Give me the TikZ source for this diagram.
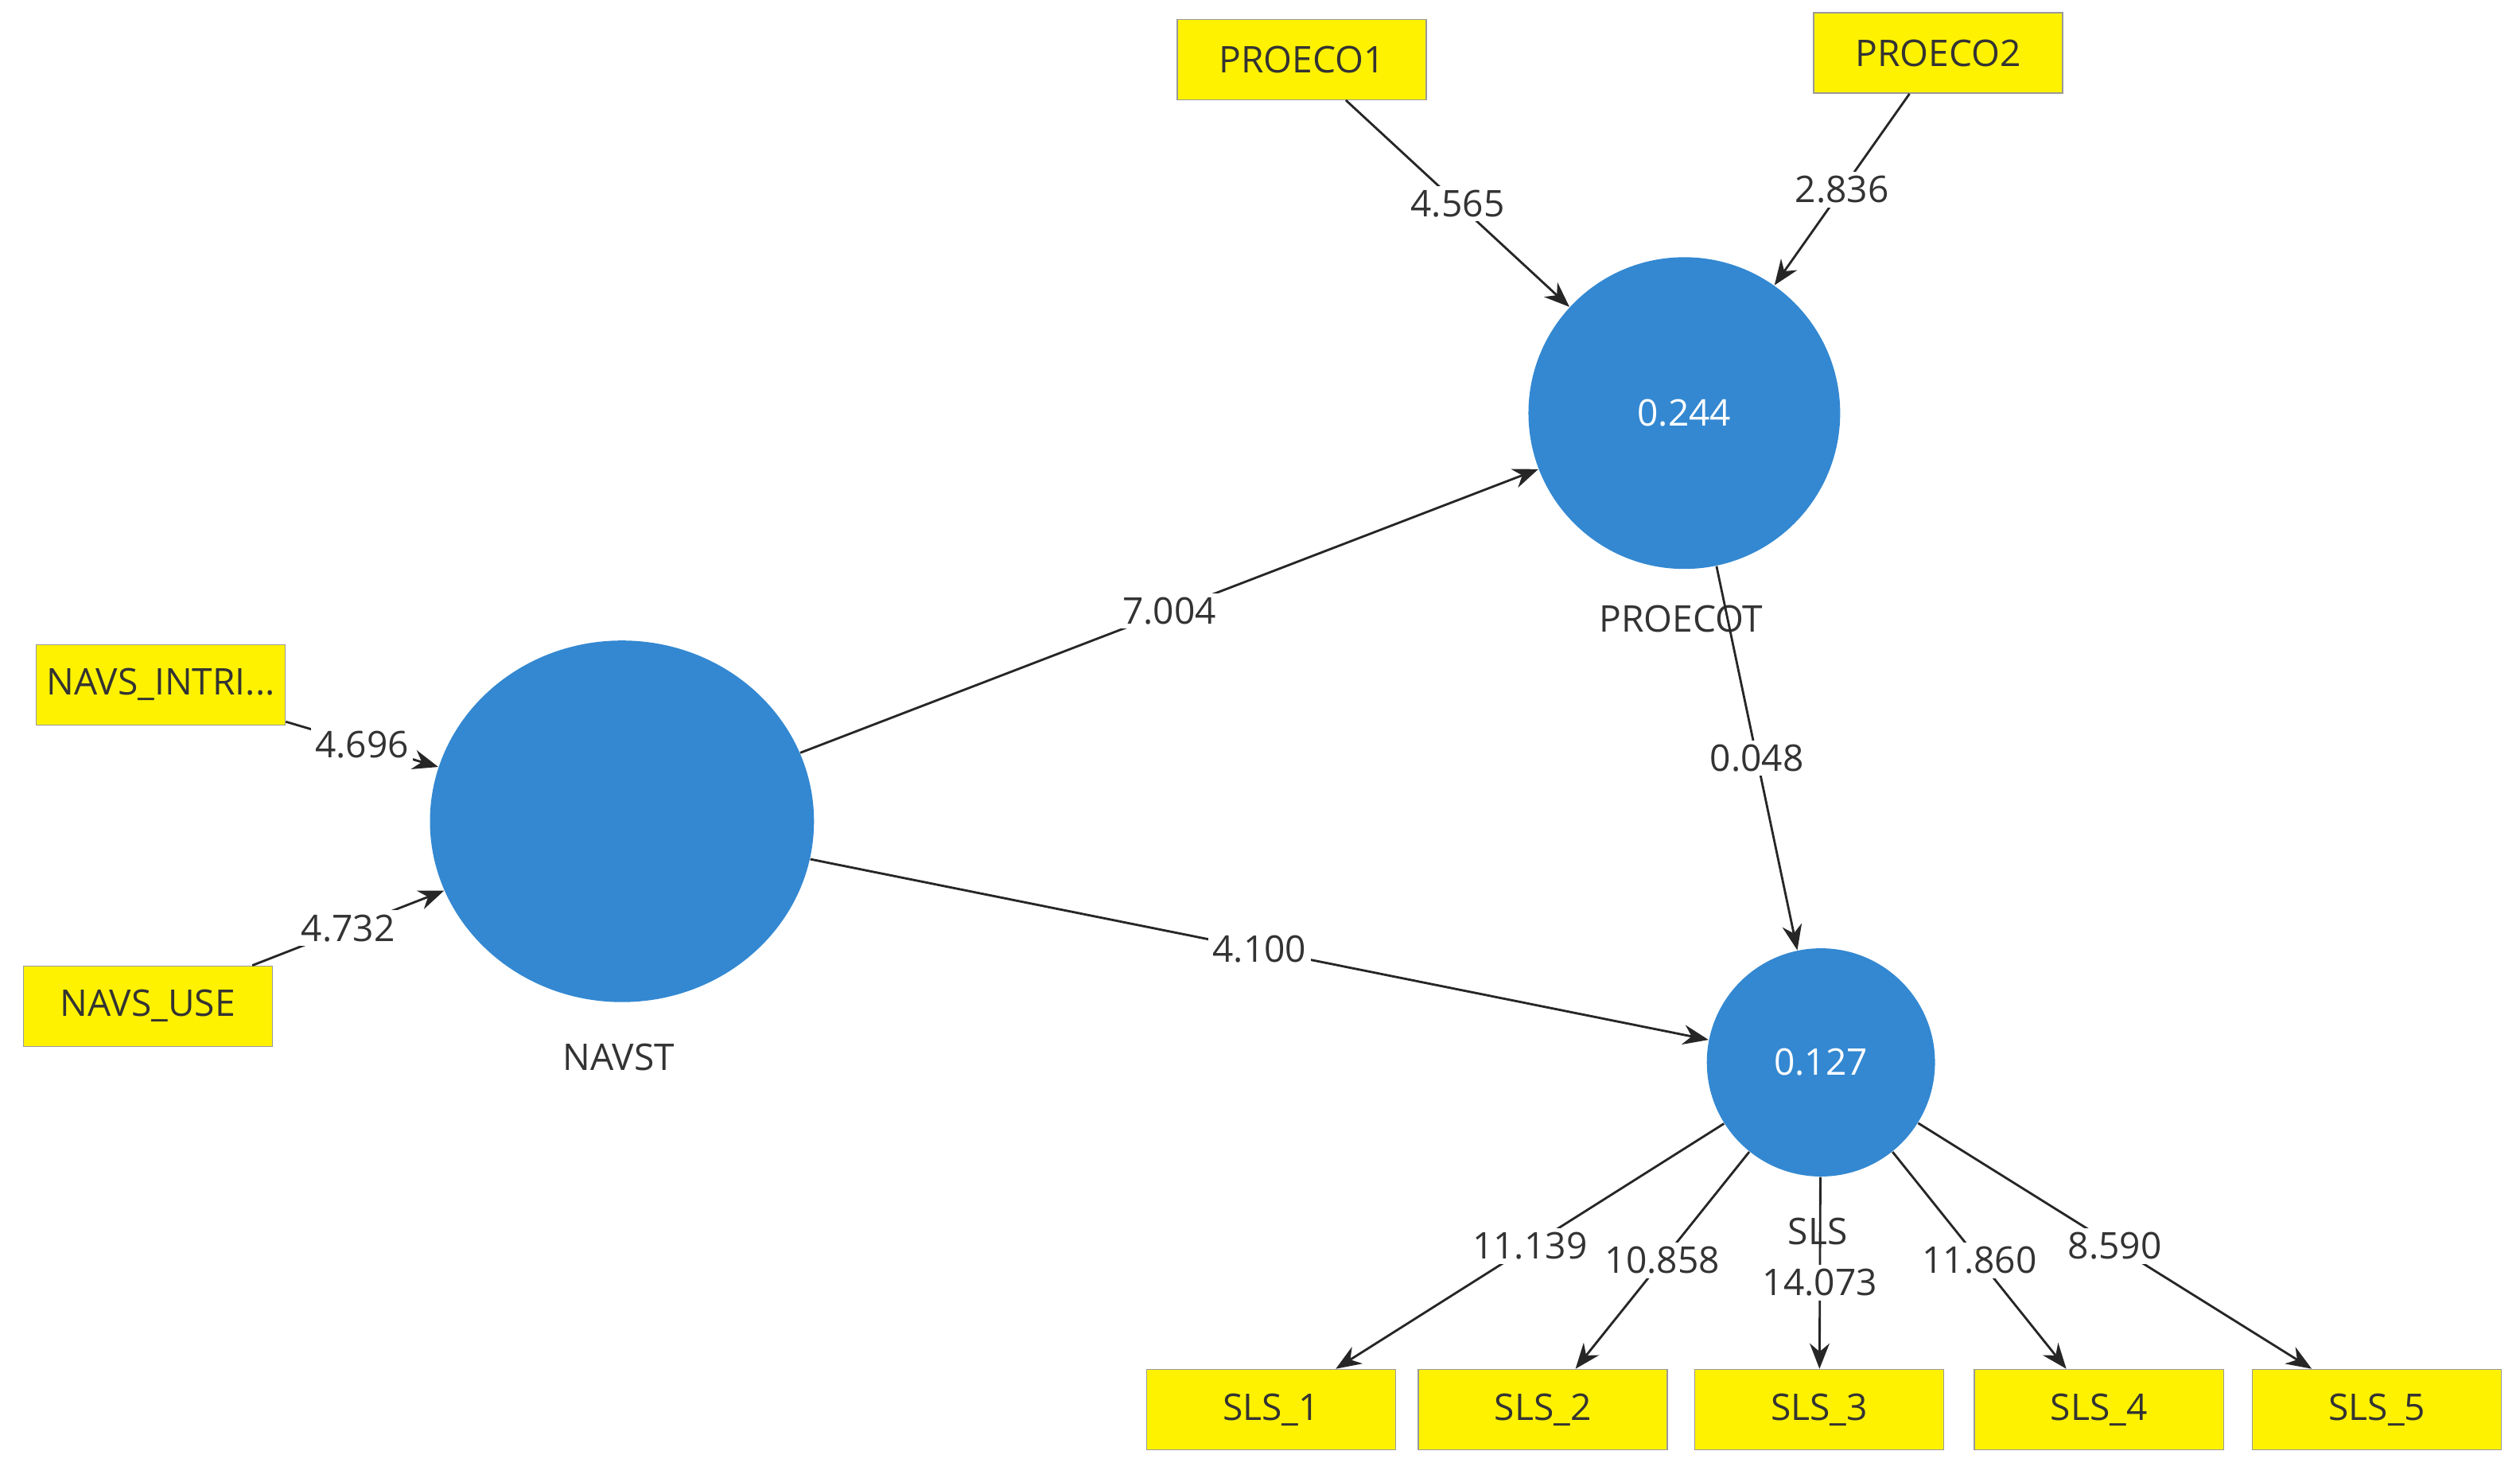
\documentclass[tikz,border=0pt]{standalone}
\usepackage{fontspec}
\setmainfont{Open Sans}
\usetikzlibrary{arrows.meta,shapes.geometric}
\begin{document}
\begin{tikzpicture}[x=0.02cm,y=-0.02cm,
  every node/.style={font=\fontsize{13}{15}\selectfont, text=black!80},
  ind/.style={draw=black!40, fill=yellow, minimum width=3.1cm, minimum height=1cm, inner sep=0pt},
  lv/.style={fill=cyan!60!blue!85, draw=none, text=white, inner sep=0pt},
  arr/.style={draw=black!85, line width=0.8pt, -{Stealth[length=9pt,width=7pt]}},
  lab/.style={fill=white, inner sep=1.5pt}]
\useasboundingbox (0,0) rectangle (1568,921.6);
\node[ind] (p1) at (810,37) {PROECO1};
\node[ind] (p2) at (1206,33) {PROECO2};
\node[ind] (ni) at (100,426) {NAVS\_INTRI...};
\node[ind] (nu) at (92,626) {NAVS\_USE};
\node[ind] (s1) at (791,877) {SLS\_1};
\node[ind] (s2) at (960,877) {SLS\_2};
\node[ind] (s3) at (1132,877) {SLS\_3};
\node[ind] (s4) at (1306,877) {SLS\_4};
\node[ind] (s5) at (1479,877) {SLS\_5};
\node[lv, circle, minimum size=3.88cm] (pt) at (1048,257) {0.244};
\node[lv, ellipse, minimum width=4.78cm, minimum height=4.5cm] (nv) at (387,511) {};
\node[lv, circle, minimum size=2.84cm] (sl) at (1133,661) {0.127};
\node (ptl) at (1046,385) {PROECOT};
\node (nvl) at (385,658) {NAVST};
\draw[arr] (p1) -- node[lab] {4.565} (pt);
\draw[arr] (p2) -- node[lab] {2.836} (pt);
\draw[arr] (nv) -- node[lab] {7.004} (pt);
\draw[arr] (ni) -- node[lab] {4.696} (nv);
\draw[arr] (nu) -- node[lab] {4.732} (nv);
\draw[arr] (pt) -- node[lab] {0.048} (sl);
\draw[arr] (nv) -- node[lab] {4.100} (sl);
\draw[arr] (sl) -- node[lab] {11.139} (s1);
\draw[arr] (sl) -- node[lab] {10.858} (s2);
\draw[arr] (sl) -- node[lab,pos=0.55] {14.073} (s3);
\draw[arr] (sl) -- node[lab] {11.860} (s4);
\draw[arr] (sl) -- node[lab] {8.590} (s5);
\node (sll) at (1131,766) {SLS};
\end{tikzpicture}
\end{document}
